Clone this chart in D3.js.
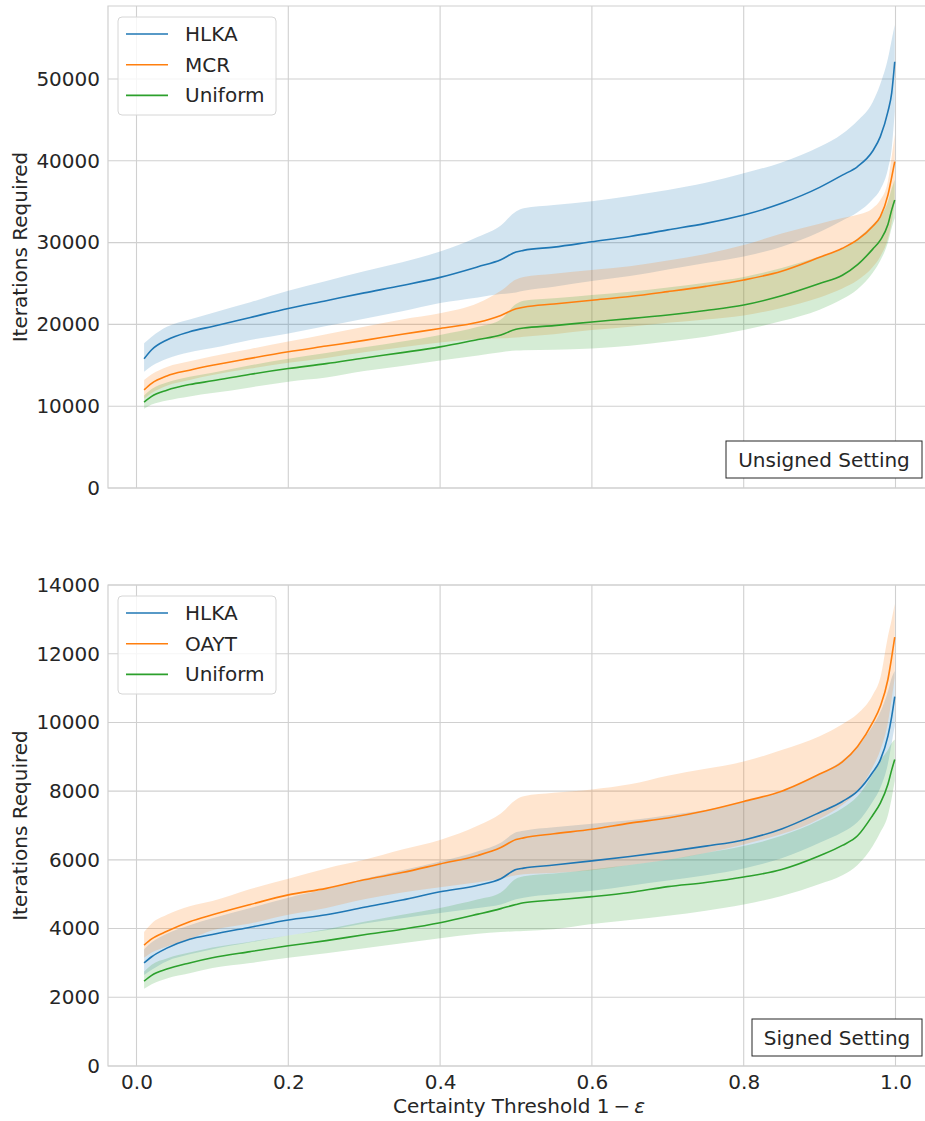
<!DOCTYPE html>
<html>
<head>
<meta charset="utf-8">
<script src="https://cdn.jsdelivr.net/npm/d3@7"></script>
<style>
  body { margin: 0; background: #fff; }
  text { font-family: "DejaVu Sans", sans-serif; fill: #262626; }
</style>
</head>
<body>
<svg id="chart" width="925" height="1121"></svg>
<script>
// Certainty thresholds (1 - epsilon) at which iterations were measured
const thresholds = [0.01, 0.02, 0.04, 0.07, 0.1, 0.15, 0.2, 0.25, 0.3, 0.35, 0.4, 0.45, 0.48, 0.5, 0.51,
  0.55, 0.6, 0.65, 0.7, 0.75, 0.8, 0.85, 0.9, 0.93, 0.95, 0.97, 0.98, 0.99, 0.995, 0.999];

// ---- Unsigned setting ----
const unsignedHLKA = [15800, 16900, 18100, 19100, 19750, 20850, 21950, 22900, 23850, 24750, 25750, 27050, 27900, 28850, 29050,
  29450, 30100, 30750, 31550, 32350, 33370, 34800, 36750, 38250, 39300, 41200, 42950, 46000, 48300, 52100];
const unsignedHLKAHigh = [17700, 18500, 19700, 20600, 21400, 22700, 24100, 25300, 26500, 27600, 28900, 30700, 32100, 33800, 34200,
  34600, 35050, 35700, 36430, 37300, 38470, 39800, 41700, 43300, 44900, 47200, 49400, 52500, 54800, 56600];
const unsignedHLKALow = [14200, 14900, 15800, 16600, 17100, 18100, 18900, 19800, 20700, 21600, 22600, 23300, 23700, 23900, 24100,
  24600, 25300, 25900, 26700, 27500, 28300, 29500, 31300, 32700, 33700, 35300, 36500, 39000, 41500, 46000];

const unsignedMCR = [12000, 12800, 13700, 14400, 15000, 15850, 16650, 17350, 18050, 18800, 19500, 20250, 21100, 21900, 22100,
  22500, 22950, 23400, 24000, 24650, 25430, 26500, 28200, 29300, 30350, 32000, 33170, 35800, 38000, 39900];
const unsignedMCRHigh = [13200, 13900, 14800, 15500, 16100, 17000, 17900, 18800, 19700, 20600, 21350, 22600, 24100, 25500, 25800,
  26200, 26650, 27100, 27800, 28600, 29700, 31100, 32300, 33000, 33400, 34200, 35200, 37500, 40500, 43200];
const unsignedMCRLow = [10900, 11600, 12500, 13200, 13800, 14600, 15300, 15900, 16600, 17200, 17800, 18200, 18300, 18400, 18500,
  18800, 19300, 19700, 20200, 20600, 21100, 22000, 23300, 24400, 25400, 27000, 28300, 30500, 32500, 35000];

const unsignedUniform = [10500, 11200, 11950, 12650, 13100, 13900, 14600, 15200, 15900, 16550, 17250, 18150, 18700, 19400, 19550,
  19850, 20300, 20700, 21150, 21700, 22370, 23500, 25000, 26000, 27300, 29200, 30300, 32200, 34000, 35200];
const unsignedUniformHigh = [11300, 12100, 12900, 13600, 14100, 15000, 15800, 16500, 17200, 17900, 18700, 19700, 20600, 22500, 22900,
  23200, 23600, 24000, 24500, 25100, 25800, 26900, 28300, 29300, 30500, 32200, 33200, 35000, 36600, 37700];
const unsignedUniformLow = [9700, 10200, 10700, 11200, 11600, 12300, 13000, 13500, 14300, 14900, 15600, 16200, 16600, 16800, 16850,
  16900, 17050, 17400, 17900, 18500, 19300, 20400, 21800, 23100, 24300, 26300, 27800, 30000, 31800, 33000];

// ---- Signed setting ----
const signedHLKA = [3000, 3180, 3430, 3690, 3830, 4040, 4250, 4400, 4620, 4830, 5070, 5260, 5450, 5720, 5760,
  5850, 5970, 6100, 6240, 6400, 6580, 6900, 7380, 7700, 8000, 8550, 8910, 9600, 10170, 10750];
const signedHLKAHigh = [3400, 3600, 3850, 4100, 4300, 4600, 4900, 5150, 5450, 5700, 5950, 6250, 6500, 6800, 6850,
  6950, 7050, 7150, 7300, 7450, 7700, 8000, 8500, 8900, 9300, 9900, 10300, 10900, 11300, 11500];
const signedHLKALow = [2650, 2800, 3050, 3250, 3400, 3600, 3800, 3950, 4150, 4300, 4450, 4600, 4700, 4850, 4900,
  5000, 5100, 5250, 5400, 5550, 5750, 6050, 6500, 6800, 7100, 7700, 8100, 8800, 9400, 9900];

const signedOAYT = [3520, 3700, 3920, 4200, 4400, 4700, 4980, 5170, 5420, 5630, 5880, 6130, 6360, 6590, 6640,
  6760, 6890, 7070, 7220, 7430, 7700, 8000, 8500, 8850, 9300, 10000, 10470, 11250, 11900, 12480];
const signedOAYTHigh = [3900, 4150, 4400, 4650, 4800, 5150, 5450, 5750, 6000, 6300, 6580, 7000, 7350, 7750, 7850,
  7950, 8050, 8200, 8450, 8650, 8860, 9200, 9600, 9950, 10250, 10800, 11300, 12500, 13000, 13450];
const signedOAYTLow = [3150, 3300, 3480, 3700, 3950, 4150, 4400, 4600, 4850, 5050, 5200, 5350, 5450, 5550, 5580,
  5620, 5700, 5850, 6000, 6200, 6450, 6750, 7200, 7600, 8000, 8700, 9200, 10000, 10700, 11300];

const signedUniform = [2470, 2640, 2820, 3000, 3150, 3330, 3500, 3650, 3820, 3980, 4170, 4420, 4580, 4700, 4750,
  4830, 4930, 5050, 5220, 5340, 5500, 5720, 6120, 6420, 6700, 7300, 7650, 8200, 8620, 8920];
const signedUniformHigh = [2750, 2950, 3130, 3300, 3450, 3620, 3800, 3980, 4200, 4400, 4600, 4850, 5050, 5450, 5520,
  5600, 5720, 5850, 6000, 6200, 6400, 6700, 7150, 7500, 7850, 8500, 8900, 9200, 9400, 9500];
const signedUniformLow = [2250, 2380, 2550, 2700, 2850, 3000, 3150, 3280, 3430, 3570, 3720, 3850, 3900, 3920, 3930,
  3980, 4130, 4250, 4370, 4520, 4700, 4950, 5300, 5550, 5850, 6400, 6800, 7300, 7800, 8300];

// Axis ticks
const xTicks = [0.0, 0.2, 0.4, 0.6, 0.8, 1.0];
const unsignedYTicks = [0, 10000, 20000, 30000, 40000, 50000];
const signedYTicks = [0, 2000, 4000, 6000, 8000, 10000, 12000, 14000];

const colors = { blue: "#1f77b4", orange: "#ff7f0e", green: "#2ca02c" };

const panels = [
  {
    id: "unsigned", top: 6, bottom: 488, yMax: 58920, yTicks: unsignedYTicks, label: "Unsigned Setting",
    series: [
      { name: "HLKA", color: colors.blue, mean: unsignedHLKA, lo: unsignedHLKALow, hi: unsignedHLKAHigh },
      { name: "MCR", color: colors.orange, mean: unsignedMCR, lo: unsignedMCRLow, hi: unsignedMCRHigh },
      { name: "Uniform", color: colors.green, mean: unsignedUniform, lo: unsignedUniformLow, hi: unsignedUniformHigh }
    ]
  },
  {
    id: "signed", top: 585, bottom: 1066, yMax: 14000, yTicks: signedYTicks, label: "Signed Setting",
    series: [
      { name: "HLKA", color: colors.blue, mean: signedHLKA, lo: signedHLKALow, hi: signedHLKAHigh },
      { name: "OAYT", color: colors.orange, mean: signedOAYT, lo: signedOAYTLow, hi: signedOAYTHigh },
      { name: "Uniform", color: colors.green, mean: signedUniform, lo: signedUniformLow, hi: signedUniformHigh }
    ]
  }
];

const svg = d3.select("#chart");
const left = 108, right = 940;
const x = d3.scaleLinear().domain([0, 1]).range([136.5, 895.5]);
const gridColor = "#d0d0d0";

panels.forEach((p, pi) => {
  const y = d3.scaleLinear().domain([0, p.yMax]).range([p.bottom, p.top]);
  const g = svg.append("g");

  const clipId = "clip-" + p.id;
  svg.append("clipPath").attr("id", clipId)
    .append("rect").attr("x", left).attr("y", p.top).attr("width", right - left).attr("height", p.bottom - p.top);

  // grid
  g.selectAll(".gx").data(xTicks).join("line")
    .attr("x1", d => x(d)).attr("x2", d => x(d)).attr("y1", p.top).attr("y2", p.bottom)
    .attr("stroke", gridColor).attr("stroke-width", 1.1);
  g.selectAll(".gy").data(p.yTicks).join("line")
    .attr("x1", left).attr("x2", right).attr("y1", d => y(d)).attr("y2", d => y(d))
    .attr("stroke", gridColor).attr("stroke-width", 1.1);

  // frame (left, top, bottom spines)
  g.append("path")
    .attr("d", `M${right},${p.top}H${left}V${p.bottom}H${right}`)
    .attr("fill", "none").attr("stroke", gridColor).attr("stroke-width", 1.2);

  const plot = g.append("g").attr("clip-path", `url(#${clipId})`);

  // shaded spread bands
  p.series.forEach(s => {
    const area = d3.area()
      .x((d, i) => x(thresholds[i]))
      .y0((d, i) => y(s.lo[i]))
      .y1((d, i) => y(s.hi[i]))
      .curve(d3.curveMonotoneX);
    plot.append("path").datum(s.mean).attr("d", area)
      .attr("fill", s.color).attr("fill-opacity", 0.2).attr("stroke", "none");
  });
  // mean lines
  p.series.forEach(s => {
    const line = d3.line()
      .x((d, i) => x(thresholds[i]))
      .y(d => y(d))
      .curve(d3.curveMonotoneX);
    plot.append("path").datum(s.mean).attr("d", line)
      .attr("fill", "none").attr("stroke", s.color).attr("stroke-width", 1.6);
  });

  // y axis labels
  const yAxis = d3.axisLeft(y).tickValues(p.yTicks).tickFormat(d3.format("d")).tickSize(0).tickPadding(8);
  const ya = g.append("g").attr("transform", `translate(${left},0)`).call(yAxis);
  ya.select(".domain").remove();
  ya.selectAll("text").style("font-size", "20px").attr("fill", "#262626");

  g.append("text")
    .attr("transform", `translate(27,${(p.top + p.bottom) / 2}) rotate(-90)`)
    .attr("text-anchor", "middle")
    .style("font-size", "20px")
    .text("Iterations Required");

  // legend
  const lg = g.append("g").attr("transform", `translate(118,${p.top + 11})`);
  lg.append("rect").attr("width", 158).attr("height", 98).attr("rx", 4)
    .attr("fill", "#fff").attr("fill-opacity", 0.8).attr("stroke", "#d6d6d6").attr("stroke-width", 1);
  p.series.forEach((s, i) => {
    const cy = 17 + i * 30.7;
    lg.append("line").attr("x1", 8).attr("x2", 50).attr("y1", cy).attr("y2", cy)
      .attr("stroke", s.color).attr("stroke-width", 1.6);
    lg.append("text").attr("x", 67).attr("y", cy).attr("dy", "0.35em")
      .style("font-size", "20px").text(s.name);
  });

  // setting label box
  const lbW = p.label === "Unsigned Setting" ? 196 : 170;
  const lb = g.append("g").attr("transform", `translate(${922 - lbW},${p.bottom - 47})`);
  lb.append("rect").attr("width", lbW).attr("height", 37)
    .attr("fill", "#fff").attr("stroke", "#262626").attr("stroke-width", 1);
  lb.append("text").attr("x", lbW / 2).attr("y", 18.5).attr("dy", "0.35em").attr("text-anchor", "middle")
    .style("font-size", "20px").text(p.label);

  // x tick labels only on the lower panel
  if (pi === 1) {
    const xAxis = d3.axisBottom(x).tickValues(xTicks).tickFormat(d3.format(".1f")).tickSize(0).tickPadding(9);
    const xa = g.append("g").attr("transform", `translate(0,${p.bottom})`).call(xAxis);
    xa.select(".domain").remove();
    xa.selectAll("text").style("font-size", "20px").attr("fill", "#262626");

    const xl = g.append("text").attr("x", 519).attr("y", 1113).attr("text-anchor", "middle").style("font-size", "20px");
    xl.append("tspan").text("Certainty Threshold 1\u2009\u2212\u2009");
    xl.append("tspan").style("font-style", "italic").text("\u03b5");
  }
});
</script>
</body>
</html>
